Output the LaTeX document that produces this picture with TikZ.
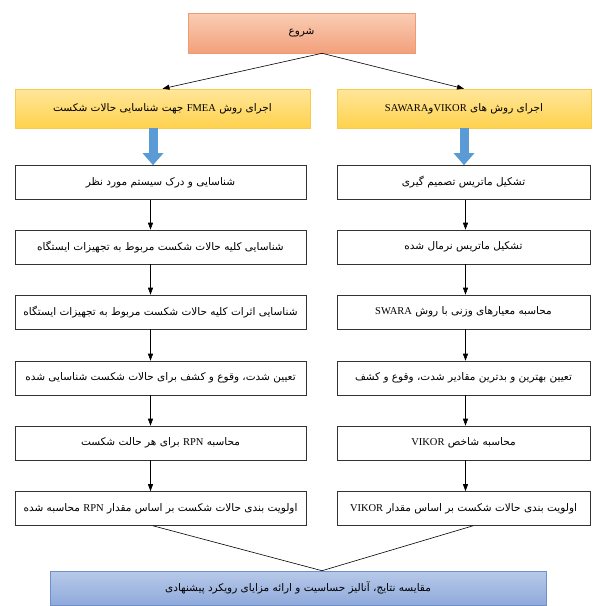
\documentclass[tikz,border=0pt]{standalone}
\usepackage{fontspec}
\setmainfont{Liberation Serif}
\newfontfamily\arabicfont[Script=Arabic]{DejaVu Sans}
\newfontfamily\latinfont{Liberation Serif}
\TeXXeTstate=1
\usetikzlibrary{arrows.meta}

\definecolor{peachtop}{HTML}{F9CDB3}
\definecolor{peachbot}{HTML}{F3A07C}
\definecolor{peachline}{HTML}{EE9A72}
\definecolor{yeltop}{HTML}{FFE699}
\definecolor{yelbot}{HTML}{FFD24D}
\definecolor{yelline}{HTML}{F5CB52}
\definecolor{finaltop}{HTML}{B8CAE9}
\definecolor{finalbot}{HTML}{8FA9DB}
\definecolor{finalline}{HTML}{6F8FC9}
\definecolor{arrowblue}{HTML}{5B9BD5}

\newcommand{\fa}[1]{{\arabicfont\beginR #1\endR}}
\newcommand{\la}[1]{\beginL{\latinfont #1}\endL}

\begin{document}
\begin{tikzpicture}[
    x=1pt,y=-1pt,
    box/.style={draw=black!80,line width=0.6pt,fill=white,minimum height=34pt,
      inner sep=0pt,font=\fontsize{10.5}{12}\selectfont},
    lbox/.style={box,minimum width=291pt},
    rbox/.style={box,minimum width=253pt},
    headbox/.style={box,draw=yelline,top color=yeltop,bottom color=yelbot,minimum height=39pt},
    conn/.style={-{Triangle[width=5pt,length=7pt]},line width=0.6pt},
    bigarrow/.style={-{Triangle[width=20pt,length=12pt]},line width=9pt,draw=arrowblue}]
\useasboundingbox (0,0) rectangle (595,606);

% start and the two methods
\node[box,draw=peachline,top color=peachtop,bottom color=peachbot,
  minimum width=227pt,minimum height=40pt] (start) at (301.5,33) {\fa{شروع}};
\node[headbox,minimum width=295pt] (fmea) at (162.5,108.5)
  {\fa{اجرای روش \la{FMEA} جهت شناسایی حالات شکست}};
\node[headbox,minimum width=254pt] (vikor) at (464,108.5)
  {\fa{اجرای روش های  \la{VIKOR}و\la{SAWARA}}};

% FMEA steps
\node[lbox] (l1) at (160.5,182.5) {\fa{شناسایی و درک سیستم مورد نظر}};
\node[lbox] (l2) at (160.5,247) {\fa{شناسایی کلیه حالات شکست مربوط به تجهیزات ایستگاه}};
\node[lbox] (l3) at (160.5,312) {\fa{شناسایی اثرات کلیه حالات شکست مربوط به تجهیزات ایستگاه}};
\node[lbox] (l4) at (160.5,378) {\fa{تعیین شدت، وقوع و کشف برای حالات شکست شناسایی شده}};
\node[lbox] (l5) at (160.5,443) {\fa{محاسبه \la{RPN} برای هر حالت شکست}};
\node[lbox] (l6) at (160.5,508.5) {\fa{اولویت بندی حالات شکست بر اساس مقدار \la{RPN} محاسبه شده}};

% VIKOR steps
\node[rbox] (r1) at (463.5,182.5) {\fa{تشکیل ماتریس تصمیم گیری}};
\node[rbox] (r2) at (463.5,247) {\fa{تشکیل ماتریس نرمال شده}};
\node[rbox] (r3) at (463.5,312) {\fa{محاسبه معیارهای وزنی با روش \la{SWARA}}};
\node[rbox] (r4) at (463.5,378) {\fa{تعیین بهترین و بدترین مقادیر شدت، وقوع و کشف}};
\node[rbox] (r5) at (463.5,443) {\fa{محاسبه شاخص \la{VIKOR}}};
\node[rbox] (r6) at (463.5,508.5) {\fa{اولویت بندی حالات شکست بر اساس مقدار \la{VIKOR}}};

% comparison
\node[box,draw=finalline,top color=finaltop,bottom color=finalbot,
  minimum width=496pt] (final) at (298,588) {\fa{مقایسه نتایج، آنالیز حساسیت و ارائه مزایای رویکرد پیشنهادی}};

\draw[conn] ([xshift=20.5pt]start.south) -- (fmea.north);
\draw[conn] ([xshift=20.5pt]start.south) -- (vikor.north);
\draw[bigarrow] ([xshift=-9.5pt]fmea.south) -- ([xshift=-7.5pt]l1.north);
\draw[bigarrow] (vikor.south) -- ([xshift=0.5pt]r1.north);
\foreach \a/\b in {l1/l2,l2/l3,l3/l4,l4/l5,l5/l6}
  \draw[conn] ([xshift=-10pt]\a.south) -- ([xshift=-10pt]\b.north);
\foreach \a/\b in {r1/r2,r2/r3,r3/r4,r4/r5,r5/r6}
  \draw[conn] ([xshift=2pt]\a.south) -- ([xshift=2pt]\b.north);
\draw[line width=0.6pt] ([xshift=-7.5pt]l6.south) -- ([xshift=24pt]final.north);
\draw[line width=0.6pt] ([xshift=9.5pt]r6.south) -- ([xshift=24pt]final.north);
\end{tikzpicture}
\end{document}
